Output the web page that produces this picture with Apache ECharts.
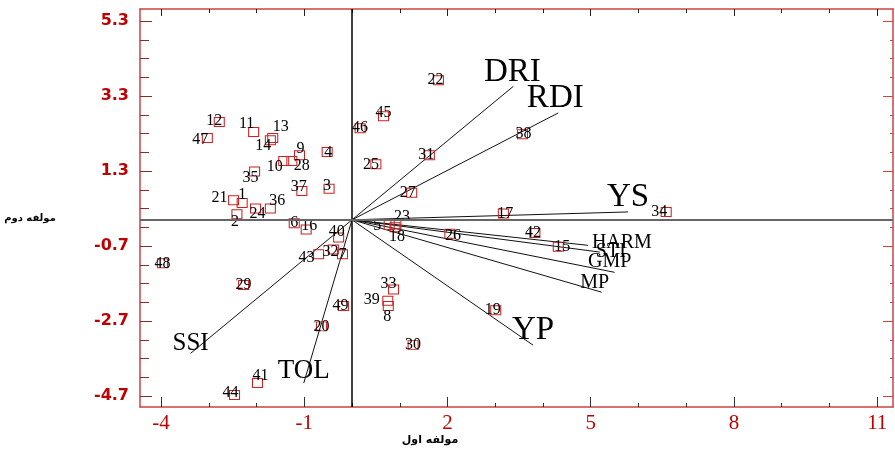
<!DOCTYPE html>
<html><head><meta charset="utf-8">
<script src="https://cdn.jsdelivr.net/npm/echarts@6/dist/echarts.min.js"></script>
<style>html,body{margin:0;padding:0;background:#fff}#c{width:895px;height:450px}</style>
</head><body><div id="c"></div>
<script>
// ---- data ----
const pointIds = [1,2,3,4,5,6,7,8,9,10,11,12,13,14,15,16,17,18,19,20,21,22,23,24,25,26,27,28,29,30,31,32,33,34,35,36,37,38,39,40,41,42,43,44,45,46,47,48,49];
const pc1 = [-2.30,-2.41,-0.48,-0.52,0.78,-1.21,-0.20,0.76,-1.10,-1.43,-2.06,-2.78,-1.66,-1.71,4.32,-0.96,3.17,0.90,3.01,-0.64,-2.48,1.81,0.92,-2.02,0.50,2.05,1.25,-1.26,-2.27,1.28,1.62,-0.39,0.87,6.58,-2.04,-1.71,-1.05,3.57,0.75,-0.28,-1.98,3.83,-0.70,-2.46,0.66,0.17,-3.03,-3.97,-0.18];
const pc2 = [0.45,0.15,0.83,1.81,-0.14,-0.09,-0.92,-2.30,1.72,1.57,2.34,2.61,2.18,2.12,-0.72,-0.26,0.17,-0.20,-2.41,-2.84,0.52,3.72,-0.12,0.30,1.48,-0.37,0.72,1.57,-1.74,-3.34,1.72,-0.79,-1.86,0.21,1.29,0.30,0.77,2.28,-2.16,-0.47,-4.35,-0.35,-0.92,-4.67,2.76,2.44,2.18,-1.16,-2.30];
const vectorNames = ['DRI','RDI','YS','HARM','STI','GMP','MP','YP','SSI','TOL'];
const vectorX = [3.38,4.32,5.78,4.94,5.19,5.50,5.23,3.79,-3.38,-1.01];
const vectorY = [3.56,2.85,0.21,-0.68,-0.86,-1.40,-1.93,-3.34,-3.56,-4.35];
const xTickLabels = [-4,-1,2,5,8,11];
const xMinorTicks = [-4,-3,-2,-1,0,1,2,3,4,5,6,7,8,9,10,11];
const yTickLabels = [-4.7,-2.7,-0.7,1.3,3.3,5.3];
const yMinorTicks = [-4.7,-4.2,-3.7,-3.2,-2.7,-2.2,-1.7,-1.2,-0.7,-0.2,0.3,0.8,1.3,1.8,2.3,2.8,3.3,3.8,4.3,4.8,5.3];
const xTitle = 'مولفه اول';
const yTitle = 'مولفه دوم';

// ---- styles ----
const labelOffset = {1:[0,-8],2:[-2,8],3:[-2,-3],4:[1,1],5:[-12,1],6:[0,0],7:[0,0],8:[-1,11],9:[1,-6],10:[-9,6],
 11:[-7,-8],12:[-5,-1],13:[8,-11],14:[-7,6],15:[4,0],16:[3,-4],17:[2,0],18:[2,9],19:[-3,0],20:[0,0],
 21:[-14,-3],22:[-3,0],23:[6,-8],24:[2,5],25:[-5,0],26:[3,2],27:[-4,0],28:[10,5],29:[0,0],30:[0,0],
 31:[-3,0],32:[-3,2],33:[-5,-6],34:[-7,0],35:[-4,6],36:[7,-8],37:[-3,-4],38:[1,0],39:[-16,-1],40:[-2,-6],
 41:[3,-7],42:[-2,0],43:[-12,3],44:[-4,-2],45:[0,-3],46:[0,0],47:[-7,2],48:[0,0],49:[-3,0]};
const vecStyle = {DRI:[33,-1,-14],RDI:[33,-3,-15],YS:[33,0,-15],YP:[33,0,-15],SSI:[25,0,-10],TOL:[27,0,-12],
 HARM:[20,34,-3],STI:[20,11,0],GMP:[20,-5,-11],MP:[20,-7,-9]};

const X_MIN=-4.44, X_MAX=11.33, Y_MIN=-4.99, Y_MAX=5.62;
const RED='#cc4444', LBL='#c00000';
const gridRect = {left:140, right:2, top:9, bottom:43};

function xAx(i, pos, ticks, len, tcol, showLine, labels){
  return {type:'value', gridIndex:i, position:pos, min:X_MIN, max:X_MAX, splitLine:{show:false},
    axisLine:{show:showLine, onZero:false, lineStyle:{color:RED, width:1.5}},
    axisTick:{show:true, inside:true, length:len, customValues:ticks, lineStyle:{color:tcol,width:1}},
    axisLabel: labels ? {show:true, customValues:labels, margin:6, color:LBL, fontFamily:'Liberation Serif', fontSize:21,
        formatter:v=>String(Math.round(v))} : {show:false}};
}
function yAx(i, pos, ticks, len, tcol, showLine, labels){
  return {type:'value', gridIndex:i, position:pos, min:Y_MIN, max:Y_MAX, splitLine:{show:false},
    axisLine:{show:showLine, onZero:false, lineStyle:{color:RED, width:1.5}},
    axisTick:{show:true, inside:true, length:len, customValues:ticks, lineStyle:{color:tcol,width:1}},
    axisLabel: labels ? {show:true, customValues:labels, margin:11, color:LBL, fontFamily:'DejaVu Sans', fontWeight:'bold', fontSize:16,
        formatter:v=>v.toFixed(1)} : {show:false}};
}

const chart = echarts.init(document.getElementById('c'), null, {renderer:'canvas'});
chart.setOption({
  animation:false,
  backgroundColor:'#fff',
  grid:[0,1,2,3].map(()=>Object.assign({}, gridRect)),
  xAxis:[
    xAx(0,'bottom',xTickLabels,10,'#333',true,xTickLabels),
    xAx(1,'bottom',xMinorTicks,4,'#333',false,null),
    xAx(2,'top',xTickLabels,7,'#222',true,null),
    xAx(3,'top',xMinorTicks,4,'#222',false,null)
  ],
  yAxis:[
    yAx(0,'left',yTickLabels,12,'#8b2a2a',true,yTickLabels),
    yAx(1,'left',yMinorTicks,9,'#8b2a2a',false,null),
    yAx(2,'right',yTickLabels,10,RED,true,null),
    yAx(3,'right',yMinorTicks,3,RED,false,null)
  ],
  graphic:[
    {type:'text', x:430, y:440, style:{text:xTitle, font:'bold 11px "DejaVu Sans"', fill:'#000', align:'center', verticalAlign:'middle'}},
    {type:'text', x:30, y:218, style:{text:yTitle, font:'bold 10px "DejaVu Sans"', fill:'#000', align:'center', verticalAlign:'middle'}}
  ],
  series:[
    {type:'scatter', xAxisIndex:0, yAxisIndex:0, data:[], silent:true,
      markLine:{silent:true, symbol:'none', label:{show:false}, animation:false,
        data:[{xAxis:0, lineStyle:{color:'#000', width:1.5, type:'solid'}},
              {yAxis:0, lineStyle:{color:'#666', width:2, type:'solid'}}]}},
    {type:'lines', coordinateSystem:'cartesian2d', xAxisIndex:0, yAxisIndex:0, silent:true,
      lineStyle:{color:'#111', width:1, opacity:1},
      data: vectorNames.map((n,i)=>({coords:[[0,0],[vectorX[i],vectorY[i]]]}))},
    {type:'scatter', xAxisIndex:0, yAxisIndex:0, symbol:'rect', symbolSize:[10,9], silent:true,
      itemStyle:{color:'rgba(255,255,255,0)', borderColor:'#cc2222', borderWidth:1, opacity:1},
      label:{show:true, position:'inside', color:'#000', opacity:1, fontFamily:'Liberation Serif', fontSize:16,
        formatter:p=>String(p.value[2])},
      data: pointIds.map((id,i)=>({value:[pc1[i],pc2[i],id], label:{offset:labelOffset[id]||[0,0]}}))},
    {type:'scatter', xAxisIndex:0, yAxisIndex:0, symbolSize:0, silent:true,
      itemStyle:{opacity:1},
      label:{show:true, position:'inside', color:'#000', opacity:1, fontFamily:'Liberation Serif', formatter:p=>p.name},
      data: vectorNames.map((n,i)=>({name:n, value:[vectorX[i],vectorY[i]],
        label:{fontSize:vecStyle[n][0], offset:[vecStyle[n][1],vecStyle[n][2]]}}))}
  ]
});
</script></body></html>
